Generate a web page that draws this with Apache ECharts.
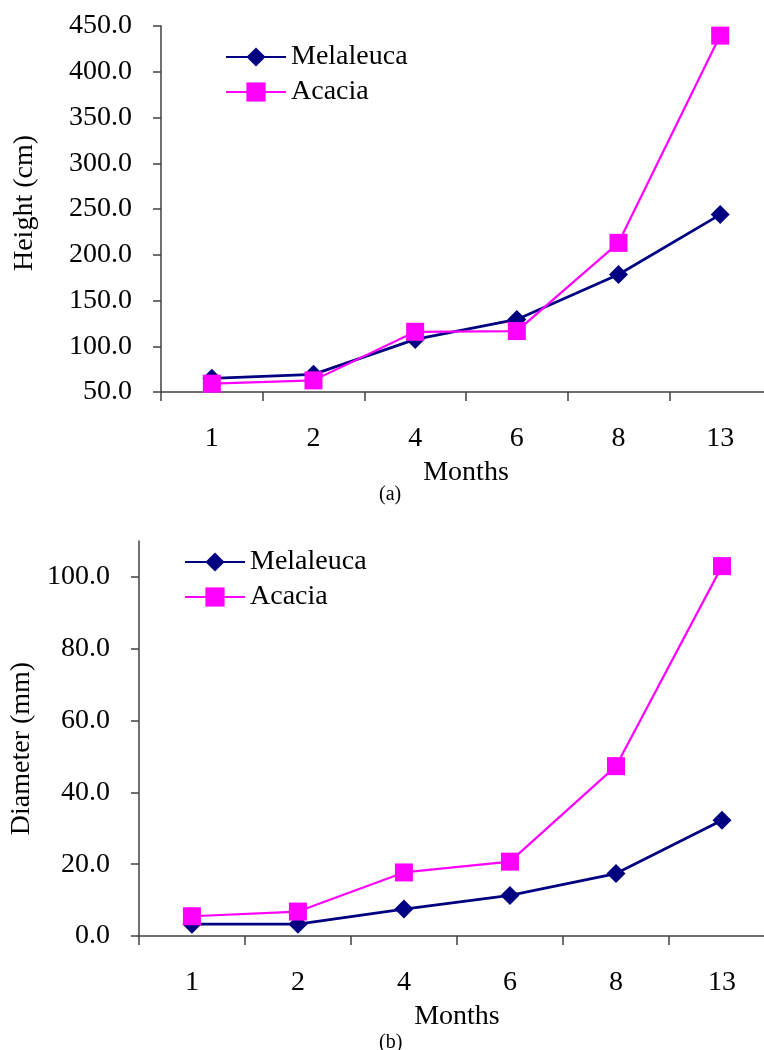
<!DOCTYPE html>
<html><head><meta charset="utf-8">
<script src="https://cdn.jsdelivr.net/npm/echarts@6/dist/echarts.min.js"></script>
<style>html,body{margin:0;padding:0;background:#fff;overflow:hidden;width:764px;height:1050px}#c{width:800px;height:1050px}</style>
</head><body><div id="c"></div>
<script>
const months = ['1', '2', '4', '6', '8', '13'];
const heightMelaleuca = [64.9, 69.3, 107.5, 129.3, 178.4, 243.9];
const heightAcacia = [59.1, 62.7, 115.8, 116.6, 213.0, 439.5];
const diameterMelaleuca = [3.3, 3.3, 7.5, 11.3, 17.4, 32.2];
const diameterAcacia = [5.5, 6.8, 17.7, 20.7, 47.3, 103.0];
const diameterTicks = [0, 20, 40, 60, 80, 100];

const FONT = 'Liberation Serif';
const AXIS_COLOR = '#404040';
const NAVY = '#000080';
const MAGENTA = '#FF00FF';

const txt = (size) => ({ fontFamily: FONT, fontSize: size, color: '#000' });

function xAxisFor(gridIndex) {
  return {
    type: 'category', gridIndex, data: months, boundaryGap: true,
    name: 'Months', nameLocation: 'middle', nameGap: 67, nameTextStyle: txt(28),
    axisLine: { lineStyle: { color: AXIS_COLOR, width: 1.5 } },
    axisTick: { show: true, length: 9, inside: false, lineStyle: { color: AXIS_COLOR, width: 1.5 } },
    axisLabel: Object.assign(txt(28), { margin: 33 }),
    splitLine: { show: false }
  };
}

const option = {
  animation: false,
  backgroundColor: '#fff',
  grid: [
    { left: 161, top: 26, width: 610, height: 366, containLabel: false },
    { left: 133, top: 541, width: 642, height: 395, containLabel: false }
  ],
  legend: [
    { orient: 'vertical', left: 220, top: 38, itemWidth: 60, itemHeight: 24, itemGap: 7,
      textStyle: txt(28), data: ['Melaleuca', 'Acacia'] },
    { orient: 'vertical', left: 179, top: 543, itemWidth: 60, itemHeight: 24, itemGap: 7,
      textStyle: txt(28), data: ['Melaleuca', 'Acacia'] }
  ],
  title: [
    { text: '(a)', left: 374, top: 480,
      textStyle: { fontFamily: FONT, fontSize: 20, fontWeight: 'normal', color: '#000' } },
    { text: '(b)', left: 374, top: 1028,
      textStyle: { fontFamily: FONT, fontSize: 20, fontWeight: 'normal', color: '#000' } }
  ],
  xAxis: [xAxisFor(0), xAxisFor(1)],
  yAxis: [
    { type: 'value', gridIndex: 0, min: 50, max: 450, interval: 50,
      name: 'Height (cm)', nameLocation: 'middle', nameGap: 122,
      nameTextStyle: Object.assign(txt(28), { padding: [0, 0, 0, 12] }),
      axisLine: { show: true, lineStyle: { color: AXIS_COLOR, width: 1.5 } },
      axisTick: { show: true, length: 8, lineStyle: { color: AXIS_COLOR, width: 1.5 } },
      axisLabel: Object.assign(txt(28), { margin: 29, formatter: v => v.toFixed(1) }),
      splitLine: { show: false } },
    { type: 'value', gridIndex: 1, min: 0, max: 110, interval: 20,
      name: 'Diameter (mm)', nameLocation: 'middle', nameGap: 100,
      nameTextStyle: Object.assign(txt(28), { padding: [0, 20, 0, 0] }),
      axisLine: { show: true, lineStyle: { color: AXIS_COLOR, width: 1.5 } },
      axisTick: { show: true, length: 8, customValues: diameterTicks, lineStyle: { color: AXIS_COLOR, width: 1.5 } },
      axisLabel: Object.assign(txt(28), { margin: 29, customValues: diameterTicks, formatter: v => Number(v).toFixed(1) }),
      splitLine: { show: false } }
  ],
  series: [
    { name: 'Melaleuca', type: 'line', xAxisIndex: 0, yAxisIndex: 0, data: heightMelaleuca,
      symbol: 'diamond', symbolSize: 19, showAllSymbol: true,
      lineStyle: { color: NAVY, width: 2.8 }, itemStyle: { color: NAVY } },
    { name: 'Acacia', type: 'line', xAxisIndex: 0, yAxisIndex: 0, data: heightAcacia,
      symbol: 'rect', symbolSize: 18, showAllSymbol: true,
      lineStyle: { color: MAGENTA, width: 2.2 }, itemStyle: { color: MAGENTA } },
    { name: 'Melaleuca', type: 'line', xAxisIndex: 1, yAxisIndex: 1, data: diameterMelaleuca,
      symbol: 'diamond', symbolSize: 19, showAllSymbol: true,
      lineStyle: { color: NAVY, width: 2.8 }, itemStyle: { color: NAVY } },
    { name: 'Acacia', type: 'line', xAxisIndex: 1, yAxisIndex: 1, data: diameterAcacia,
      symbol: 'rect', symbolSize: 18, showAllSymbol: true,
      lineStyle: { color: MAGENTA, width: 2.2 }, itemStyle: { color: MAGENTA } }
  ]
};

const chart = echarts.init(document.getElementById('c'), null, { renderer: 'canvas' });
chart.setOption(option);
</script>
</body></html>
